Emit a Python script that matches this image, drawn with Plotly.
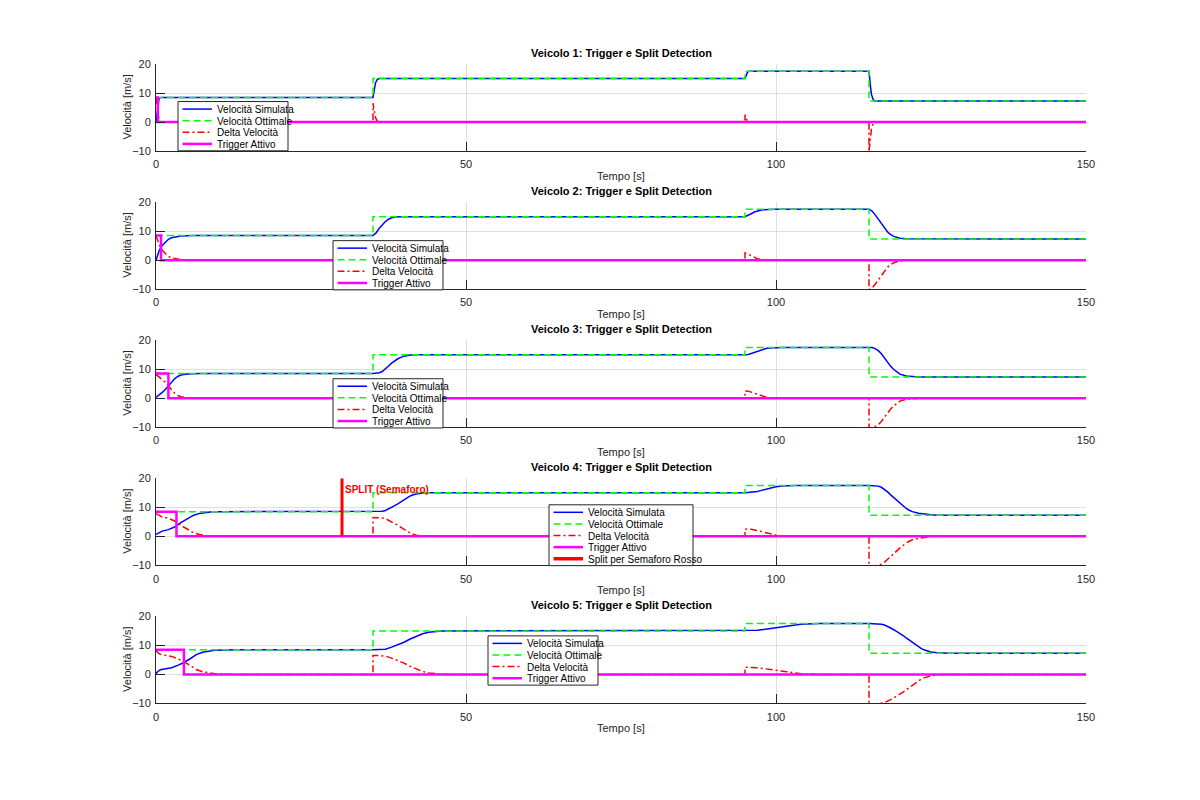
import numpy as np
import plotly.graph_objects as go

# ---------------- data ----------------
TIME_MAX = 150
STEP_TIMES = [35, 95, 115]
OPT_LEVELS = [8.5, 15, 17.5, 7.3]
TRIGGER_LEVEL = 8.5
TRIGGER_END = [0.3, 0.8, 2.0, 3.3, 4.5]
SPLIT_TIME = 30
SPLIT_TOP = 20
SPLIT_LABEL_Y = 16.2
VEHICLES = ["Veicolo 1", "Veicolo 2", "Veicolo 3", "Veicolo 4", "Veicolo 5"]

V1_T = [0, 0.15, 0.3, 0.5, 0.8,
        35, 35, 35.2, 35.4, 35.7, 36,
        95, 95, 95.2, 95.4, 95.7,
        115, 115, 115.2, 115.4, 115.7, 116, 150]
V1_SIM = [0, 3, 6.5, 8.2, 8.5,
          8.5, 8.5, 11, 13.5, 14.7, 15,
          15, 15, 16.3, 17.2, 17.5,
          17.5, 17.5, 13, 9.5, 7.6, 7.3, 7.3]

V2_T = [0, 0.5, 1, 1.5, 2, 2.5, 3, 4, 5, 6,
        35, 35, 35.5, 36, 36.5, 37, 37.5, 38, 39, 40,
        95, 95, 95.5, 96, 96.5, 97, 97.5, 98, 99, 100,
        115, 115, 115.5, 116, 116.5, 117, 117.5, 118, 118.5, 119, 120, 121, 150]
V2_SIM = [0, 3.2, 5.1, 6.3, 7.2, 7.7, 8.0, 8.35, 8.45, 8.5,
          8.5, 8.5, 9.4, 11.0, 12.2, 13.3, 14.1, 14.6, 14.95, 15,
          15, 15, 15.4, 16.0, 16.6, 17.0, 17.2, 17.35, 17.45, 17.5,
          17.5, 17.5, 16.9, 15.6, 14.1, 12.4, 10.9, 9.7, 8.8, 8.2, 7.55, 7.35, 7.3]

V3_T = [0, 0.5, 1, 1.5, 2, 2.5, 3, 3.5, 4, 5, 6, 7,
        35, 35, 35.5, 36, 36.5, 37, 37.5, 38, 38.5, 39, 39.5, 40, 41, 42,
        95, 95, 95.5, 96, 96.5, 97, 97.5, 98, 98.5, 99, 100, 101,
        115, 115, 115.5, 116, 116.5, 117, 117.5, 118, 118.5, 119, 119.5, 120, 121, 122, 123, 150]
V3_SIM = [0.3, 1.0, 2.0, 3.0, 4.2, 5.5, 6.7, 7.5, 8.0, 8.35, 8.5, 8.5,
          8.5, 8.5, 8.55, 8.8, 9.2, 10.0, 11.1, 12.1, 12.9, 13.6, 14.1, 14.5, 14.9, 15,
          15, 15, 15.05, 15.4, 15.8, 16.2, 16.6, 17.0, 17.2, 17.35, 17.45, 17.5,
          17.5, 17.5, 17.45, 17.1, 16.4, 15.3, 13.8, 12.3, 11.0, 9.9, 9.0, 8.3, 7.65, 7.4, 7.3, 7.3]

V4_T = [0, 0.5, 1, 2, 3, 4, 5, 6, 7, 8, 9, 10,
        35, 35, 36, 36.5, 37, 37.5, 38, 38.5, 39, 39.5, 40, 40.5, 41, 41.5, 42, 43, 44,
        95, 95, 96, 96.5, 97, 97.5, 98, 98.5, 99, 99.5, 100, 101, 102, 103,
        115, 115, 116, 116.5, 117, 117.5, 118, 118.5, 119, 119.5, 120, 120.5, 121, 121.5, 122,
        123, 124, 125, 126, 150]
V4_SIM = [0.7, 1.4, 1.8, 2.3, 3.2, 4.7, 6.1, 7.2, 7.9, 8.3, 8.5, 8.5,
          8.5, 8.5, 8.55, 8.65, 8.9, 9.4, 10.0, 10.6, 11.2, 11.9, 12.6, 13.3, 13.9, 14.3, 14.6, 14.9, 15,
          15, 15, 15.1, 15.25, 15.45, 15.75, 16.05, 16.35, 16.65, 16.9, 17.1, 17.35, 17.45, 17.5,
          17.5, 17.5, 17.45, 17.3, 16.9, 16.2, 15.3, 14.3, 13.3, 12.3, 11.3, 10.4, 9.6, 9.0, 8.5,
          7.95, 7.6, 7.4, 7.3, 7.3]

V5_T = [0, 0.3, 0.7, 1.5, 2.5, 3.5, 4.5, 5.5, 6.5, 7.5, 8.5, 9.5, 11, 12.5,
        35, 35, 36, 36.5, 37, 38, 39, 40, 41, 42, 43, 44, 45, 46, 47,
        95, 95, 96, 97, 98, 99, 100, 101, 102, 103, 104, 105, 106, 107,
        115, 115, 116, 116.5, 117, 117.5, 118, 118.5, 119, 119.5, 120, 120.5, 121, 121.5,
        122, 122.5, 123, 123.5, 124, 124.5, 125, 126, 127, 128, 150]
V5_SIM = [0.2, 1.0, 1.6, 1.9, 2.3, 3.1, 4.1, 5.4, 6.8, 7.6, 8.05, 8.3, 8.45, 8.5,
          8.5, 8.5, 8.5, 8.55, 8.7, 9.4, 10.2, 11.1, 12.2, 13.2, 14.0, 14.5, 14.8, 14.95, 15,
          15, 15, 15.05, 15.2, 15.5, 15.8, 16.2, 16.55, 16.85, 17.1, 17.25, 17.35, 17.45, 17.5,
          17.5, 17.5, 17.45, 17.4, 17.25, 17.0, 16.6, 16.0, 15.4, 14.8, 14.1, 13.4, 12.6, 11.8,
          10.9, 10.1, 9.4, 8.8, 8.4, 8.0, 7.75, 7.45, 7.3, 7.3, 7.3]

SIM_T = [V1_T, V2_T, V3_T, V4_T, V5_T]
SIM_V = [V1_SIM, V2_SIM, V3_SIM, V4_SIM, V5_SIM]

NAMES = ["Velocità Simulata", "Velocità Ottimale", "Delta Velocità", "Trigger Attivo",
         "Split per Semaforo Rosso"]

# ---------------- styling ----------------
W, H = 1200, 800
FONT = "Liberation Sans, Arial, Helvetica, sans-serif"
# target positions in screen pixels (reference picture)
AX_LEFT, AX_RIGHT = 156, 1086
AX_TOP0, AX_BOT0, AX_STEP = 63.5, 150.5, 138
# observed mapping of paper px -> screenshot px (offset, scale)
SX_OFF, SX_SCALE = 3.0, 0.990
SY_OFF, SY_SCALE = 5.5, 0.9844

C_SIM, C_OPT, C_DELTA, C_TRIG = "#0000ff", "#00ff00", "#ff0000", "#ff00ff"
DASH_OPT = "7px,4px"
DASH_DELTA = "7px,3px,2px,3px"
STYLES = [
    dict(color=C_SIM, width=1.5, dash="solid"),
    dict(color=C_OPT, width=1.5, dash=DASH_OPT),
    dict(color=C_DELTA, width=1.5, dash=DASH_DELTA),
    dict(color=C_TRIG, width=2.5, dash="solid"),
    dict(color=C_DELTA, width=3.5, dash="solid"),
]
# legend box: left, top, width (target px)
LEGEND_BOX = [(178, 101, 110), (333, 240, 110), (333, 378, 110), (549, 504, 144), (488, 635, 110)]


def px(x):
    return ((x - SX_OFF) / SX_SCALE) / W


def py(y):
    return 1 - ((y - SY_OFF) / SY_SCALE) / H


# optimal step trace
opt_x, opt_y = [0], [OPT_LEVELS[0]]
for i, st in enumerate(STEP_TIMES):
    opt_x += [st, st]
    opt_y += [OPT_LEVELS[i], OPT_LEVELS[i + 1]]
opt_x.append(TIME_MAX)
opt_y.append(OPT_LEVELS[-1])


def opt_at(ts):
    out = []
    for i, t in enumerate(ts):
        side = "right" if (i > 0 and ts[i - 1] == t) else "left"
        out.append(OPT_LEVELS[int(np.searchsorted(STEP_TIMES, t, side=side))])
    return np.array(out)


fig = go.Figure()
annotations = []
shapes = []

for k in range(5):
    xa = "x" if k == 0 else f"x{k+1}"
    ya = "y" if k == 0 else f"y{k+1}"
    t = np.array(SIM_T[k], dtype=float)
    sim = np.array(SIM_V[k], dtype=float)
    delta = opt_at(SIM_T[k]) - sim
    te = TRIGGER_END[k]
    trig_x = [0, te, te, TIME_MAX]
    trig_y = [TRIGGER_LEVEL, TRIGGER_LEVEL, 0, 0]

    fig.add_trace(go.Scatter(x=t, y=sim, mode="lines", name=NAMES[0], line=STYLES[0],
                             xaxis=xa, yaxis=ya, showlegend=False))
    fig.add_trace(go.Scatter(x=opt_x, y=opt_y, mode="lines", name=NAMES[1], line=STYLES[1],
                             xaxis=xa, yaxis=ya, showlegend=False))
    fig.add_trace(go.Scatter(x=t, y=delta, mode="lines", name=NAMES[2], line=STYLES[2],
                             xaxis=xa, yaxis=ya, showlegend=False))
    fig.add_trace(go.Scatter(x=trig_x, y=trig_y, mode="lines", name=NAMES[3], line=STYLES[3],
                             xaxis=xa, yaxis=ya, showlegend=False))
    n_entries = 4
    if k == 3:
        fig.add_trace(go.Scatter(x=[SPLIT_TIME, SPLIT_TIME], y=[0, SPLIT_TOP], mode="lines",
                                 name=NAMES[4], line=dict(color=C_DELTA, width=3),
                                 xaxis=xa, yaxis=ya, showlegend=False))
        annotations.append(dict(x=SPLIT_TIME + 0.15, y=SPLIT_LABEL_Y, xref=xa, yref=ya,
                                text="<b>SPLIT (Semaforo)</b>", showarrow=False,
                                xanchor="left", yanchor="middle",
                                font=dict(family=FONT, size=10, color=C_DELTA)))
        n_entries = 5

    top = AX_TOP0 + AX_STEP * k
    bot = AX_BOT0 + AX_STEP * k
    dom_y = [py(bot), py(top)]
    fig.layout[("xaxis" if k == 0 else f"xaxis{k+1}")] = dict(
        domain=[px(AX_LEFT), px(AX_RIGHT)], anchor=ya, range=[0, TIME_MAX],
        tickvals=[0, 50, 100, 150], showgrid=True, gridcolor="#dfdfdf", gridwidth=1,
        ticks="inside", ticklen=9, tickcolor="#262626", tickwidth=1,
        showline=True, linecolor="#262626", linewidth=1, zeroline=False,
        tickfont=dict(family=FONT, size=11, color="#262626"), ticklabelstandoff=3)
    fig.layout[("yaxis" if k == 0 else f"yaxis{k+1}")] = dict(
        domain=dom_y, anchor=xa, range=[-10, 20],
        tickvals=[-10, 0, 10, 20], showgrid=True, gridcolor="#dfdfdf", gridwidth=1,
        ticks="inside", ticklen=9, tickcolor="#262626", tickwidth=1,
        showline=True, linecolor="#262626", linewidth=1, zeroline=False,
        tickfont=dict(family=FONT, size=11, color="#262626"), ticklabelstandoff=2)

    cx = (AX_LEFT + AX_RIGHT) / 2
    annotations.append(dict(x=px(cx), y=py(top - 11.5), xref="paper", yref="paper",
                            text=f"<b>{VEHICLES[k]}: Trigger e Split Detection</b>",
                            showarrow=False, xanchor="center", yanchor="middle",
                            font=dict(family=FONT, size=11, color="#000000")))
    annotations.append(dict(x=px(cx), y=py(bot + 24.5), xref="paper", yref="paper",
                            text="Tempo [s]", showarrow=False, xanchor="center",
                            yanchor="middle", font=dict(family=FONT, size=11, color="#262626")))
    annotations.append(dict(x=px(127), y=py((top + bot) / 2), xref="paper", yref="paper",
                            text="Velocità [m/s]", showarrow=False, textangle=-90,
                            xanchor="center", yanchor="middle",
                            font=dict(family=FONT, size=11, color="#262626")))

    # legend box
    L, T, Wd = LEGEND_BOX[k]
    Hb = 2 * 7.1 + 11.6 * (n_entries - 1) + 0.2
    shapes.append(dict(type="rect", xref="paper", yref="paper", x0=px(L), x1=px(L + Wd),
                       y0=py(T + Hb), y1=py(T), fillcolor="white",
                       line=dict(color="#262626", width=1), layer="above"))
    for i in range(n_entries):
        yy = T + 7.5 + 11.6 * i
        st = STYLES[i]
        shapes.append(dict(type="line", xref="paper", yref="paper", x0=px(L + 4.5),
                           x1=px(L + 34), y0=py(yy), y1=py(yy), layer="above",
                           line=dict(color=st["color"], width=st["width"], dash=st["dash"])))
        annotations.append(dict(x=px(L + 37), y=py(yy + 0.5), xref="paper", yref="paper",
                                text=NAMES[i], showarrow=False, xanchor="left",
                                yanchor="middle",
                                font=dict(family=FONT, size=10, color="#000000")))

fig.update_layout(width=W, height=H, autosize=False,
                  margin=dict(l=0, r=0, t=0, b=0),
                  paper_bgcolor="white", plot_bgcolor="white",
                  showlegend=False, annotations=annotations, shapes=shapes,
                  font=dict(family=FONT))
fig.write_html("out.html")
